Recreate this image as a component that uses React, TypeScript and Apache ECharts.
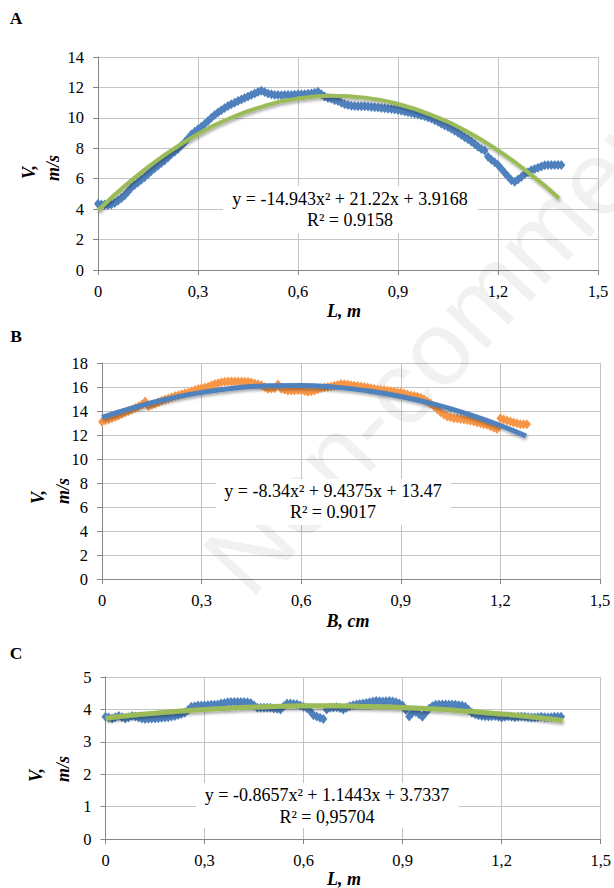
import React, { useEffect, useRef } from "react";
import * as echarts from "echarts";

// ---------- Data ----------
// Chart A: V (m/s) along L (m)
const A_L = [
  0.00,0.01,0.02,0.03,0.04,0.05,0.06,0.07,0.08,0.09,0.10,0.11,0.12,0.13,0.14,0.15,0.16,0.17,0.18,0.19,
  0.20,0.21,0.22,0.23,0.24,0.25,0.26,0.27,0.28,0.29,0.30,0.31,0.32,0.33,0.34,0.35,0.36,0.37,0.38,0.39,
  0.40,0.41,0.42,0.43,0.44,0.45,0.46,0.47,0.48,0.49,0.50,0.51,0.52,0.53,0.54,0.55,0.56,0.57,0.58,0.59,
  0.60,0.61,0.62,0.63,0.64,0.65,0.66,0.67,0.68,0.69,0.70,0.71,0.72,0.73,0.74,0.75,0.76,0.77,0.78,0.79,
  0.80,0.81,0.82,0.83,0.84,0.85,0.86,0.87,0.88,0.89,0.90,0.91,0.92,0.93,0.94,0.95,0.96,0.97,0.98,0.99,
  1.00,1.01,1.02,1.03,1.04,1.05,1.06,1.07,1.08,1.09,1.10,1.11,1.12,1.13,1.14,1.15,1.16,1.17,1.18,1.19,
  1.20,1.21,1.22,1.23,1.24,1.25,1.26,1.27,1.28,1.29,1.30,1.31,1.32,1.33,1.34,1.35,1.36,1.37,1.38,1.39,
];
const A_V = [
  4.35,4.3,4.3,4.28,4.3,4.4,4.55,4.72,4.9,5.15,5.4,5.58,5.75,5.93,6.1,6.3,6.5,6.68,6.85,7.03,
  7.2,7.4,7.6,7.78,7.95,8.18,8.4,8.65,8.9,9.08,9.25,9.42,9.6,9.8,10.0,10.18,10.35,10.5,10.65,10.78,
  10.9,11.0,11.1,11.2,11.3,11.4,11.5,11.6,11.7,11.78,11.7,11.6,11.55,11.5,11.5,11.48,11.5,11.5,11.5,11.52,
  11.55,11.55,11.55,11.58,11.6,11.65,11.72,11.55,11.4,11.3,11.25,11.15,11.1,11.0,10.9,10.85,10.8,10.78,10.77,10.77,
  10.77,10.75,10.72,10.7,10.68,10.65,10.63,10.6,10.58,10.55,10.52,10.47,10.42,10.37,10.32,10.27,10.22,10.16,10.1,10.03,
  9.95,9.85,9.75,9.62,9.5,9.4,9.28,9.15,9.02,8.87,8.72,8.6,8.45,8.28,8.1,7.95,7.85,7.45,7.25,7.08,
  6.9,6.65,6.4,6.15,5.9,5.8,5.95,6.12,6.3,6.43,6.55,6.64,6.72,6.8,6.88,6.9,6.9,6.9,6.9,6.9,
];
const A_TREND_L = [0,0.1,0.2,0.3,0.4,0.5,0.6,0.7,0.8,0.9,1.0,1.1,1.2,1.3,1.383];
const A_TREND_V = [3.92,5.89,7.56,8.94,10.01,10.79,11.27,11.45,11.33,10.91,10.19,9.18,7.86,6.25,4.72];

// Chart B: V (m/s) along B (cm)
const B_L = [
  0.00,0.01,0.02,0.03,0.04,0.05,0.06,0.07,0.08,0.09,0.10,0.11,0.12,0.13,0.14,0.15,0.16,0.17,0.18,0.19,
  0.20,0.21,0.22,0.23,0.24,0.25,0.26,0.27,0.28,0.29,0.30,0.31,0.32,0.33,0.34,0.35,0.36,0.37,0.38,0.39,
  0.40,0.41,0.42,0.43,0.44,0.45,0.46,0.47,0.48,0.49,0.50,0.51,0.52,0.53,0.54,0.55,0.56,0.57,0.58,0.59,
  0.60,0.61,0.62,0.63,0.64,0.65,0.66,0.67,0.68,0.69,0.70,0.71,0.72,0.73,0.74,0.75,0.76,0.77,0.78,0.79,
  0.80,0.81,0.82,0.83,0.84,0.85,0.86,0.87,0.88,0.89,0.90,0.91,0.92,0.93,0.94,0.95,0.96,0.97,0.98,0.99,
  1.00,1.01,1.02,1.03,1.04,1.05,1.06,1.07,1.08,1.09,1.10,1.11,1.12,1.13,1.14,1.15,1.16,1.17,1.18,1.19,
  1.20,1.21,1.22,1.23,1.24,1.25,1.26,1.27,1.28,
];
const B_V = [
  13.1,13.2,13.3,13.4,13.5,13.62,13.75,13.88,14.0,14.12,14.25,14.4,14.55,14.8,14.4,14.5,14.6,14.72,14.85,14.95,
  15.05,15.15,15.25,15.32,15.4,15.48,15.55,15.65,15.75,15.83,15.9,15.96,16.02,16.15,16.25,16.32,16.4,16.43,16.46,16.46,
  16.46,16.45,16.45,16.44,16.43,16.37,16.3,16.22,16.15,16.0,15.85,15.88,15.9,16.2,15.85,15.78,15.7,15.7,15.7,15.72,
  15.72,15.66,15.6,15.65,15.7,15.8,15.9,15.95,16.0,16.05,16.1,16.17,16.24,16.22,16.2,16.15,16.1,16.08,16.05,16.0,
  15.95,15.9,15.85,15.8,15.77,15.72,15.68,15.64,15.6,15.57,15.55,15.46,15.38,15.3,15.25,15.18,15.1,14.95,14.8,14.6,
  14.4,14.15,13.9,13.7,13.55,13.47,13.4,13.37,13.34,13.3,13.25,13.18,13.12,13.05,12.97,12.9,12.85,12.72,12.6,12.5,
  13.4,13.3,13.2,13.12,13.05,12.97,12.9,12.9,12.9,
];
const B_TREND_L = [0,0.1,0.2,0.3,0.4,0.5,0.6,0.7,0.8,0.9,1.0,1.1,1.2,1.277];
const B_TREND_V = [13.47,14.33,15.02,15.55,15.91,16.1,16.13,15.99,15.68,15.21,14.57,13.76,12.79,11.92];

// Chart C: V (m/s) along L (m)
const C_L = [
  0.00,0.01,0.02,0.03,0.04,0.05,0.06,0.07,0.08,0.09,0.10,0.11,0.12,0.13,0.14,0.15,0.16,0.17,0.18,0.19,
  0.20,0.21,0.22,0.23,0.24,0.25,0.26,0.27,0.28,0.29,0.30,0.31,0.32,0.33,0.34,0.35,0.36,0.37,0.38,0.39,
  0.40,0.41,0.42,0.43,0.44,0.45,0.46,0.47,0.48,0.49,0.50,0.51,0.52,0.53,0.54,0.55,0.56,0.57,0.58,0.59,
  0.60,0.61,0.62,0.63,0.64,0.65,0.66,0.67,0.68,0.69,0.70,0.71,0.72,0.73,0.74,0.75,0.76,0.77,0.78,0.79,
  0.80,0.81,0.82,0.83,0.84,0.85,0.86,0.87,0.88,0.89,0.90,0.91,0.92,0.93,0.94,0.95,0.96,0.97,0.98,0.99,
  1.00,1.01,1.02,1.03,1.04,1.05,1.06,1.07,1.08,1.09,1.10,1.11,1.12,1.13,1.14,1.15,1.16,1.17,1.18,1.19,
  1.20,1.21,1.22,1.23,1.24,1.25,1.26,1.27,1.28,1.29,1.30,1.31,1.32,1.33,1.34,1.35,1.36,1.37,1.38,
];
const C_V = [
  3.77,3.75,3.72,3.76,3.8,3.76,3.72,3.76,3.8,3.78,3.75,3.72,3.7,3.71,3.72,3.72,3.73,3.74,3.75,3.76,
  3.78,3.8,3.83,3.86,3.9,3.98,4.08,4.1,4.12,4.12,4.12,4.13,4.14,4.14,4.15,4.18,4.2,4.22,4.23,4.23,
  4.23,4.23,4.23,4.22,4.2,4.12,4.05,4.05,4.05,4.05,4.05,4.03,4.02,4.0,4.1,4.18,4.18,4.17,4.16,4.12,
  4.08,4.04,3.95,3.82,3.78,3.74,3.7,4.0,4.05,4.06,4.07,4.04,4.0,4.05,4.1,4.13,4.15,4.17,4.18,4.2,
  4.22,4.24,4.26,4.25,4.24,4.25,4.26,4.24,4.22,4.18,4.12,3.98,3.78,3.9,3.92,3.85,3.77,3.9,4.02,4.1,
  4.14,4.15,4.15,4.15,4.15,4.15,4.14,4.13,4.12,4.08,3.98,3.9,3.85,3.82,3.8,3.79,3.78,3.79,3.8,3.77,
  3.75,3.77,3.79,3.77,3.76,3.77,3.78,3.77,3.76,3.75,3.75,3.76,3.77,3.76,3.75,3.76,3.77,3.77,3.77,
];
const C_TREND_L = [0,0.1,0.2,0.3,0.4,0.5,0.6,0.7,0.8,0.9,1.0,1.1,1.2,1.3,1.385];
const C_TREND_V = [3.73,3.84,3.93,4.0,4.05,4.09,4.11,4.11,4.09,4.06,4.01,3.94,3.86,3.76,3.66];

const X_TICKS = ["0", "0,3", "0,6", "0,9", "1,2", "1,5"];
const EQ_A = ["y = -14.943x² + 21.22x + 3.9168", "R² = 0.9158"];
const EQ_B = ["y = -8.34x² + 9.4375x + 13.47", "R² = 0.9017"];
const EQ_C = ["y = -0.8657x² + 1.1443x + 3.7337", "R² = 0,95704"];

// ---------- Styling ----------
const SERIF = "Liberation Serif, Times New Roman, serif";
const BLUE = "#4F81BD";
const ORANGE = "#F79646";
const GREEN = "#9BBB59";
const GRID_COLOR = "#c4c4c4";
const AXIS_COLOR = "#868686";

const zip = (xs: number[], ys: number[]) => xs.map((x, i) => [x, ys[i]]);

const xFmt = (v: number) => {
  const idx = Math.round(v / 0.3);
  return X_TICKS[idx] ?? String(v);
};

function xAxis(gridIndex: number) {
  return {
    type: "value",
    gridIndex,
    min: 0,
    max: 1.5,
    interval: 0.3,
    axisLine: { show: true, onZero: false, lineStyle: { color: AXIS_COLOR, width: 1 } },
    axisTick: { show: true, length: 5, lineStyle: { color: AXIS_COLOR } },
    axisLabel: { margin: 13, fontSize: 16.5, color: "#000", fontFamily: SERIF, formatter: xFmt },
    splitLine: { show: true, lineStyle: { color: GRID_COLOR, width: 1 } },
  };
}

function yAxis(gridIndex: number, max: number, interval: number) {
  return {
    type: "value",
    gridIndex,
    min: 0,
    max,
    interval,
    axisLine: { show: true, lineStyle: { color: AXIS_COLOR, width: 1 } },
    axisTick: { show: true, length: 5, lineStyle: { color: AXIS_COLOR } },
    axisLabel: { margin: 14, fontSize: 16.5, color: "#000", fontFamily: SERIF },
    splitLine: { show: true, lineStyle: { color: GRID_COLOR, width: 1 } },
  };
}

function scatter(idx: number, data: number[][], color: string) {
  return {
    type: "scatter",
    xAxisIndex: idx,
    yAxisIndex: idx,
    data,
    symbol: "diamond",
    symbolSize: [8, 10],
    itemStyle: { color, opacity: 1 },
    z: 2,
  };
}

function trend(idx: number, data: number[][], color: string, width: number) {
  return {
    type: "line",
    xAxisIndex: idx,
    yAxisIndex: idx,
    data,
    smooth: true,
    showSymbol: false,
    symbol: "none",
    lineStyle: {
      color,
      width,
      shadowColor: "rgba(0,0,0,0.35)",
      shadowBlur: 3,
      shadowOffsetX: 1,
      shadowOffsetY: 2,
    },
    z: 3,
  };
}

function text(x: number, y: number, t: string, fontSize: number, weight: string, fontStyle: string, extra: any = {}) {
  return {
    type: "text",
    x,
    y,
    z: 20,
    ...extra,
    style: {
      text: t,
      fontSize,
      fontWeight: weight,
      fontStyle,
      fontFamily: SERIF,
      fill: "#000",
      align: "center",
      verticalAlign: "middle",
      textAlign: "center",
      textVerticalAlign: "middle",
    },
  };
}

function eqBox(x: number, y: number, w: number, h: number, lines: string[], cx: number, y1: number, y2: number) {
  return [
    { type: "rect", z: 15, shape: { x, y, width: w, height: h }, style: { fill: "#ffffff" } },
    text(cx, y1, lines[0], 18, "normal", "normal"),
    text(cx, y2, lines[1], 18, "normal", "normal"),
  ];
}

const rot = { rotation: Math.PI / 2 };
const title = (x: number, y: number, t: string, extra: any = {}) => text(x, y, t, 18, "bold", "italic", extra);
const letter = (x: number, y: number, t: string) => text(x, y, t, 17.5, "bold", "normal");

const option: any = {
  animation: false,
  backgroundColor: "#ffffff",
  grid: [
    { left: 98, top: 57, width: 500, height: 213 },
    { left: 102, top: 363, width: 498, height: 216 },
    { left: 105.5, top: 677, width: 496.5, height: 162 },
  ],
  xAxis: [xAxis(0), xAxis(1), xAxis(2)],
  yAxis: [yAxis(0, 14, 2), yAxis(1, 18, 2), yAxis(2, 5, 1)],
  series: [
    scatter(0, zip(A_L, A_V), BLUE),
    trend(0, zip(A_TREND_L, A_TREND_V), GREEN, 4),
    scatter(1, zip(B_L, B_V), ORANGE),
    trend(1, zip(B_TREND_L, B_TREND_V), BLUE, 5),
    scatter(2, zip(C_L, C_V), BLUE),
    trend(2, zip(C_TREND_L, C_TREND_V), GREEN, 5),
  ],
  graphic: [
    // watermark
    {
      type: "text",
      x: 262,
      y: 612,
      z: 1,
      rotation: (47 * Math.PI) / 180,
      style: {
        text: "Non-commercial",
        fontSize: 105,
        fontFamily: "Liberation Sans, Arial, sans-serif",
        fill: "rgba(0,0,0,0.055)",
        align: "left",
        verticalAlign: "bottom",
        textAlign: "left",
        textVerticalAlign: "bottom",
      },
    },
    // panel letters
    letter(16, 18, "A"),
    letter(16, 336, "B"),
    letter(16, 653, "C"),
    // y-axis titles
    title(29, 172, "V,", rot),
    title(53, 168, "m/s", rot),
    title(38, 497, "V,", rot),
    title(63, 491, "m/s", rot),
    title(36, 775, "V,", rot),
    title(63, 769, "m/s", rot),
    // x-axis titles
    title(344, 311, "L, m"),
    title(348, 621, "B, cm"),
    title(344, 879, "L, m"),
    // equation boxes
    ...eqBox(223, 186, 255, 47, EQ_A, 350, 199, 220),
    ...eqBox(216, 479, 235, 46, EQ_B, 333, 491, 512),
    ...eqBox(196, 783, 263, 45, EQ_C, 327, 795, 817),
  ],
};

export default function App() {
  const ref = useRef<HTMLDivElement>(null);
  useEffect(() => {
    if (!ref.current) return;
    const chart = echarts.init(ref.current, null, { renderer: "svg" });
    chart.setOption(option);
    return () => chart.dispose();
  }, []);
  return (
    <div
      ref={ref}
      style={{ position: "absolute", left: 0, top: 0, width: 614, height: 888, background: "#fff" }}
    />
  );
}
